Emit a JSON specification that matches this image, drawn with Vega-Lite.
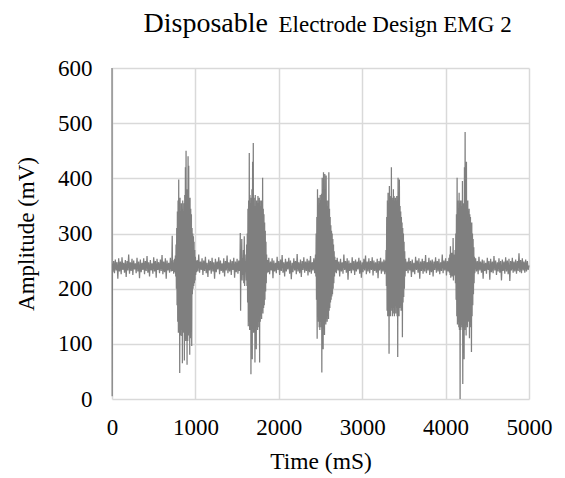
{
"$schema":"https://vega.github.io/schema/vega-lite/v6.json",
"autosize":{"type":"none"},
"padding":{"left":112,"top":68,"right":36,"bottom":79},
"width":417,"height":331,
"background":"white",
"config":{"font":"Liberation Serif","view":{"stroke":null}},
"data":{"values":[
{"t":0,"v":600},{"t":2,"v":5},{"t":5,"v":245},
{"t":10,"v":230},{"t":20,"v":250},{"t":30,"v":228},{"t":40,"v":253},{"t":50,"v":233},{"t":60,"v":248},{"t":70,"v":218},{"t":80,"v":255},{"t":90,"v":231},{"t":100,"v":249},{"t":110,"v":226},{"t":120,"v":257},{"t":130,"v":234},{"t":140,"v":247},{"t":150,"v":229},{"t":160,"v":252},{"t":170,"v":221},{"t":180,"v":250},{"t":190,"v":233},{"t":200,"v":262},{"t":210,"v":227},{"t":220,"v":248},{"t":230,"v":232},{"t":240,"v":254},{"t":250,"v":225},{"t":260,"v":251},{"t":270,"v":235},{"t":280,"v":246},{"t":290,"v":228},{"t":300,"v":256},{"t":310,"v":231},{"t":320,"v":249},{"t":330,"v":219},{"t":340,"v":253},{"t":350,"v":230},{"t":360,"v":247},{"t":370,"v":234},{"t":380,"v":255},{"t":390,"v":226},{"t":400,"v":250},{"t":410,"v":232},{"t":420,"v":259},{"t":430,"v":229},{"t":440,"v":248},{"t":450,"v":222},{"t":460,"v":252},{"t":470,"v":233},{"t":480,"v":246},{"t":490,"v":227},{"t":500,"v":257},{"t":510,"v":231},{"t":520,"v":250},{"t":530,"v":220},{"t":540,"v":254},{"t":550,"v":234},{"t":560,"v":248},{"t":570,"v":228},{"t":580,"v":253},{"t":590,"v":232},{"t":600,"v":261},{"t":610,"v":226},{"t":620,"v":249},{"t":630,"v":230},{"t":640,"v":255},{"t":650,"v":218},{"t":660,"v":251},{"t":670,"v":233},{"t":680,"v":247},{"t":690,"v":229},{"t":700,"v":256},{"t":710,"v":231},{"t":718,"v":250},{"t":722,"v":296},{"t":726,"v":232},{"t":730,"v":252},{"t":740,"v":227},{"t":750,"v":254},{"t":756,"v":230},
{"t":760,"v":260},{"t":764,"v":222},{"t":768,"v":280},{"t":772,"v":200},{"t":776,"v":310},{"t":780,"v":170},{"t":784,"v":340},{"t":788,"v":140},{"t":792,"v":360},{"t":796,"v":120},{"t":800,"v":398},{"t":804,"v":130},{"t":808,"v":350},{"t":812,"v":47},{"t":816,"v":365},{"t":820,"v":115},{"t":824,"v":340},{"t":828,"v":125},{"t":832,"v":355},{"t":836,"v":114},{"t":840,"v":345},{"t":844,"v":65},{"t":848,"v":360},{"t":852,"v":120},{"t":856,"v":340},{"t":860,"v":135},{"t":864,"v":355},{"t":868,"v":70},{"t":872,"v":370},{"t":876,"v":110},{"t":880,"v":420},{"t":884,"v":105},{"t":888,"v":450},{"t":892,"v":110},{"t":896,"v":380},{"t":900,"v":62},{"t":904,"v":360},{"t":908,"v":105},{"t":912,"v":440},{"t":916,"v":115},{"t":920,"v":423},{"t":924,"v":120},{"t":928,"v":350},{"t":932,"v":80},{"t":936,"v":365},{"t":940,"v":110},{"t":944,"v":345},{"t":948,"v":125},{"t":952,"v":335},{"t":956,"v":96},{"t":960,"v":310},{"t":964,"v":190},{"t":968,"v":300},{"t":972,"v":200},{"t":976,"v":295},{"t":980,"v":205},{"t":984,"v":285},{"t":988,"v":210},{"t":992,"v":270},{"t":996,"v":215},{"t":1000,"v":258},{"t":1004,"v":225},{"t":1008,"v":250},{"t":1012,"v":230},
{"t":1020,"v":252},{"t":1030,"v":231},{"t":1040,"v":262},{"t":1050,"v":229},{"t":1060,"v":249},{"t":1070,"v":234},{"t":1080,"v":255},{"t":1090,"v":225},{"t":1100,"v":251},{"t":1110,"v":232},{"t":1120,"v":258},{"t":1130,"v":228},{"t":1140,"v":247},{"t":1150,"v":221},{"t":1160,"v":253},{"t":1170,"v":233},{"t":1180,"v":250},{"t":1190,"v":227},{"t":1200,"v":256},{"t":1210,"v":231},{"t":1220,"v":248},{"t":1230,"v":218},{"t":1240,"v":254},{"t":1250,"v":230},{"t":1260,"v":249},{"t":1270,"v":235},{"t":1280,"v":257},{"t":1290,"v":226},{"t":1300,"v":251},{"t":1310,"v":232},{"t":1320,"v":246},{"t":1330,"v":229},{"t":1340,"v":255},{"t":1350,"v":222},{"t":1360,"v":250},{"t":1370,"v":233},{"t":1380,"v":260},{"t":1390,"v":228},{"t":1400,"v":248},{"t":1410,"v":231},{"t":1420,"v":253},{"t":1430,"v":225},{"t":1440,"v":250},{"t":1450,"v":234},{"t":1460,"v":256},{"t":1470,"v":220},{"t":1480,"v":249},{"t":1490,"v":230},{"t":1500,"v":254},{"t":1510,"v":227},{"t":1520,"v":251},{"t":1526,"v":232},
{"t":1530,"v":250},{"t":1534,"v":232},{"t":1538,"v":301},{"t":1542,"v":160},{"t":1546,"v":248},{"t":1550,"v":230},{"t":1556,"v":290},{"t":1560,"v":215},{"t":1566,"v":255},{"t":1570,"v":225},{"t":1576,"v":270},{"t":1580,"v":210},{"t":1586,"v":295},{"t":1590,"v":205},{"t":1596,"v":250},{"t":1600,"v":232},{"t":1606,"v":262},{"t":1610,"v":215},{"t":1614,"v":280},{"t":1618,"v":205},
{"t":1622,"v":300},{"t":1626,"v":175},{"t":1630,"v":345},{"t":1634,"v":132},{"t":1638,"v":360},{"t":1642,"v":140},{"t":1646,"v":446},{"t":1650,"v":125},{"t":1654,"v":370},{"t":1658,"v":140},{"t":1662,"v":355},{"t":1666,"v":45},{"t":1670,"v":365},{"t":1674,"v":130},{"t":1678,"v":380},{"t":1682,"v":72},{"t":1686,"v":430},{"t":1690,"v":135},{"t":1694,"v":464},{"t":1698,"v":120},{"t":1702,"v":365},{"t":1706,"v":140},{"t":1710,"v":350},{"t":1714,"v":66},{"t":1718,"v":370},{"t":1722,"v":135},{"t":1726,"v":350},{"t":1730,"v":90},{"t":1734,"v":360},{"t":1738,"v":145},{"t":1742,"v":355},{"t":1746,"v":125},{"t":1750,"v":368},{"t":1754,"v":140},{"t":1758,"v":355},{"t":1762,"v":130},{"t":1766,"v":365},{"t":1770,"v":66},{"t":1774,"v":360},{"t":1778,"v":140},{"t":1782,"v":350},{"t":1786,"v":150},{"t":1790,"v":360},{"t":1794,"v":145},{"t":1798,"v":345},{"t":1802,"v":160},{"t":1806,"v":401},{"t":1810,"v":155},{"t":1814,"v":345},{"t":1818,"v":165},{"t":1822,"v":335},{"t":1826,"v":170},{"t":1830,"v":320},{"t":1834,"v":180},{"t":1838,"v":305},{"t":1842,"v":195},{"t":1846,"v":285},{"t":1850,"v":210},{"t":1854,"v":262},{"t":1858,"v":228},
{"t":1866,"v":252},{"t":1874,"v":230},{"t":1880,"v":256},{"t":1890,"v":226},{"t":1900,"v":249},{"t":1910,"v":233},{"t":1920,"v":255},{"t":1930,"v":219},{"t":1940,"v":251},{"t":1950,"v":231},{"t":1960,"v":247},{"t":1970,"v":228},{"t":1980,"v":258},{"t":1990,"v":234},{"t":2000,"v":250},{"t":2010,"v":225},{"t":2020,"v":253},{"t":2030,"v":232},{"t":2040,"v":261},{"t":2050,"v":229},{"t":2060,"v":248},{"t":2070,"v":222},{"t":2080,"v":254},{"t":2090,"v":231},{"t":2100,"v":249},{"t":2110,"v":235},{"t":2120,"v":256},{"t":2130,"v":227},{"t":2140,"v":251},{"t":2150,"v":217},{"t":2160,"v":247},{"t":2170,"v":230},{"t":2180,"v":255},{"t":2190,"v":233},{"t":2200,"v":250},{"t":2210,"v":226},{"t":2220,"v":263},{"t":2230,"v":231},{"t":2240,"v":248},{"t":2250,"v":228},{"t":2260,"v":253},{"t":2270,"v":221},{"t":2280,"v":250},{"t":2290,"v":234},{"t":2300,"v":257},{"t":2310,"v":229},{"t":2320,"v":249},{"t":2330,"v":232},{"t":2340,"v":254},{"t":2350,"v":224},{"t":2360,"v":251},{"t":2370,"v":230},{"t":2380,"v":259},{"t":2390,"v":227},{"t":2400,"v":248},{"t":2410,"v":233},{"t":2420,"v":255},{"t":2430,"v":228},
{"t":2440,"v":262},{"t":2444,"v":222},{"t":2448,"v":300},{"t":2452,"v":180},{"t":2456,"v":330},{"t":2460,"v":109},{"t":2464,"v":380},{"t":2468,"v":150},{"t":2472,"v":350},{"t":2476,"v":140},{"t":2480,"v":365},{"t":2484,"v":130},{"t":2488,"v":355},{"t":2492,"v":125},{"t":2496,"v":370},{"t":2500,"v":140},{"t":2504,"v":360},{"t":2508,"v":130},{"t":2512,"v":372},{"t":2516,"v":48},{"t":2520,"v":401},{"t":2524,"v":135},{"t":2528,"v":365},{"t":2532,"v":90},{"t":2536,"v":411},{"t":2540,"v":130},{"t":2544,"v":360},{"t":2548,"v":116},{"t":2552,"v":408},{"t":2556,"v":140},{"t":2560,"v":355},{"t":2564,"v":135},{"t":2568,"v":405},{"t":2572,"v":145},{"t":2576,"v":360},{"t":2580,"v":140},{"t":2584,"v":350},{"t":2588,"v":150},{"t":2592,"v":360},{"t":2596,"v":145},{"t":2600,"v":411},{"t":2604,"v":160},{"t":2608,"v":345},{"t":2612,"v":165},{"t":2616,"v":330},{"t":2620,"v":175},{"t":2624,"v":315},{"t":2628,"v":180},{"t":2632,"v":305},{"t":2636,"v":186},{"t":2640,"v":300},{"t":2644,"v":190},{"t":2648,"v":290},{"t":2652,"v":200},{"t":2656,"v":280},{"t":2660,"v":210},{"t":2664,"v":268},{"t":2668,"v":222},{"t":2672,"v":258},{"t":2676,"v":230},
{"t":2684,"v":252},{"t":2690,"v":228},{"t":2700,"v":256},{"t":2710,"v":233},{"t":2720,"v":249},{"t":2730,"v":222},{"t":2740,"v":254},{"t":2750,"v":231},{"t":2760,"v":248},{"t":2770,"v":227},{"t":2780,"v":262},{"t":2790,"v":234},{"t":2800,"v":250},{"t":2810,"v":229},{"t":2820,"v":255},{"t":2830,"v":216},{"t":2840,"v":251},{"t":2850,"v":232},{"t":2860,"v":247},{"t":2870,"v":228},{"t":2880,"v":257},{"t":2890,"v":233},{"t":2900,"v":250},{"t":2910,"v":225},{"t":2920,"v":253},{"t":2930,"v":231},{"t":2940,"v":249},{"t":2950,"v":235},{"t":2960,"v":256},{"t":2970,"v":227},{"t":2980,"v":251},{"t":2990,"v":220},{"t":3000,"v":248},{"t":3010,"v":230},{"t":3020,"v":254},{"t":3030,"v":233},{"t":3040,"v":260},{"t":3050,"v":226},{"t":3060,"v":249},{"t":3070,"v":231},{"t":3080,"v":255},{"t":3090,"v":228},{"t":3100,"v":250},{"t":3110,"v":234},{"t":3120,"v":257},{"t":3130,"v":224},{"t":3140,"v":251},{"t":3150,"v":232},{"t":3160,"v":248},{"t":3170,"v":229},{"t":3180,"v":254},{"t":3190,"v":219},{"t":3200,"v":250},{"t":3210,"v":233},{"t":3220,"v":256},{"t":3230,"v":227},{"t":3240,"v":249},{"t":3250,"v":231},{"t":3260,"v":253},{"t":3270,"v":226},{"t":3278,"v":251},{"t":3282,"v":230},
{"t":3286,"v":270},{"t":3290,"v":205},{"t":3294,"v":330},{"t":3298,"v":160},{"t":3302,"v":360},{"t":3306,"v":150},{"t":3310,"v":374},{"t":3314,"v":160},{"t":3318,"v":355},{"t":3322,"v":82},{"t":3326,"v":386},{"t":3330,"v":160},{"t":3334,"v":365},{"t":3338,"v":150},{"t":3342,"v":368},{"t":3346,"v":165},{"t":3350,"v":420},{"t":3354,"v":160},{"t":3358,"v":365},{"t":3362,"v":150},{"t":3366,"v":360},{"t":3370,"v":165},{"t":3374,"v":380},{"t":3378,"v":155},{"t":3382,"v":368},{"t":3386,"v":150},{"t":3390,"v":360},{"t":3394,"v":168},{"t":3398,"v":365},{"t":3402,"v":155},{"t":3406,"v":360},{"t":3410,"v":165},{"t":3414,"v":368},{"t":3418,"v":150},{"t":3422,"v":355},{"t":3426,"v":76},{"t":3430,"v":401},{"t":3434,"v":160},{"t":3438,"v":360},{"t":3442,"v":150},{"t":3446,"v":398},{"t":3450,"v":165},{"t":3454,"v":350},{"t":3458,"v":168},{"t":3462,"v":340},{"t":3466,"v":160},{"t":3470,"v":330},{"t":3474,"v":170},{"t":3478,"v":320},{"t":3482,"v":112},{"t":3486,"v":310},{"t":3490,"v":175},{"t":3494,"v":300},{"t":3498,"v":185},{"t":3502,"v":285},{"t":3506,"v":200},{"t":3510,"v":268},{"t":3514,"v":222},
{"t":3520,"v":254},{"t":3530,"v":232},{"t":3540,"v":249},{"t":3550,"v":228},{"t":3560,"v":256},{"t":3570,"v":233},{"t":3580,"v":250},{"t":3590,"v":221},{"t":3600,"v":253},{"t":3610,"v":230},{"t":3620,"v":247},{"t":3630,"v":226},{"t":3640,"v":258},{"t":3650,"v":234},{"t":3660,"v":251},{"t":3670,"v":229},{"t":3680,"v":255},{"t":3690,"v":218},{"t":3700,"v":249},{"t":3710,"v":232},{"t":3720,"v":254},{"t":3730,"v":227},{"t":3740,"v":250},{"t":3750,"v":231},{"t":3760,"v":261},{"t":3770,"v":228},{"t":3780,"v":248},{"t":3790,"v":233},{"t":3800,"v":256},{"t":3810,"v":225},{"t":3820,"v":251},{"t":3830,"v":230},{"t":3840,"v":253},{"t":3850,"v":222},{"t":3860,"v":249},{"t":3870,"v":234},{"t":3880,"v":257},{"t":3890,"v":229},{"t":3900,"v":250},{"t":3910,"v":231},{"t":3920,"v":254},{"t":3930,"v":226},{"t":3940,"v":248},{"t":3950,"v":232},{"t":3960,"v":262},{"t":3970,"v":228},{"t":3980,"v":251},{"t":3990,"v":233},{"t":4000,"v":255},{"t":4010,"v":224},{"t":4020,"v":250},{"t":4030,"v":231},{"t":4040,"v":256},{"t":4046,"v":229},
{"t":4050,"v":262},{"t":4054,"v":225},{"t":4058,"v":277},{"t":4062,"v":220},{"t":4066,"v":255},{"t":4070,"v":228},{"t":4074,"v":265},{"t":4078,"v":222},{"t":4082,"v":260},{"t":4086,"v":226},{"t":4090,"v":292},{"t":4094,"v":215},{"t":4098,"v":262},{"t":4102,"v":224},{"t":4106,"v":258},{"t":4110,"v":228},{"t":4114,"v":270},{"t":4118,"v":210},{"t":4122,"v":300},{"t":4126,"v":180},{"t":4130,"v":335},{"t":4134,"v":150},{"t":4138,"v":401},{"t":4142,"v":135},{"t":4146,"v":360},{"t":4150,"v":140},{"t":4154,"v":345},{"t":4158,"v":130},{"t":4162,"v":374},{"t":4166,"v":125},{"t":4170,"v":355},{"t":4174,"v":0},{"t":4178,"v":360},{"t":4182,"v":125},{"t":4186,"v":350},{"t":4190,"v":135},{"t":4194,"v":360},{"t":4198,"v":130},{"t":4202,"v":395},{"t":4206,"v":27},{"t":4210,"v":355},{"t":4214,"v":130},{"t":4218,"v":345},{"t":4222,"v":72},{"t":4226,"v":420},{"t":4230,"v":125},{"t":4234,"v":484},{"t":4238,"v":130},{"t":4242,"v":355},{"t":4246,"v":115},{"t":4250,"v":430},{"t":4254,"v":135},{"t":4258,"v":345},{"t":4262,"v":130},{"t":4266,"v":360},{"t":4270,"v":140},{"t":4274,"v":340},{"t":4278,"v":145},{"t":4282,"v":345},{"t":4286,"v":110},{"t":4290,"v":335},{"t":4294,"v":140},{"t":4298,"v":330},{"t":4302,"v":130},{"t":4306,"v":320},{"t":4310,"v":85},{"t":4314,"v":320},{"t":4318,"v":150},{"t":4322,"v":300},{"t":4326,"v":170},{"t":4330,"v":290},{"t":4334,"v":190},{"t":4338,"v":275},{"t":4342,"v":210},{"t":4346,"v":258},{"t":4350,"v":228},
{"t":4360,"v":255},{"t":4370,"v":231},{"t":4380,"v":250},{"t":4390,"v":226},{"t":4400,"v":258},{"t":4410,"v":233},{"t":4420,"v":249},{"t":4430,"v":229},{"t":4440,"v":253},{"t":4450,"v":218},{"t":4460,"v":251},{"t":4470,"v":232},{"t":4480,"v":247},{"t":4490,"v":227},{"t":4500,"v":256},{"t":4510,"v":234},{"t":4520,"v":250},{"t":4530,"v":216},{"t":4540,"v":254},{"t":4550,"v":230},{"t":4560,"v":249},{"t":4570,"v":228},{"t":4580,"v":259},{"t":4590,"v":233},{"t":4600,"v":251},{"t":4610,"v":225},{"t":4620,"v":248},{"t":4630,"v":231},{"t":4640,"v":255},{"t":4650,"v":229},{"t":4660,"v":250},{"t":4670,"v":215},{"t":4680,"v":253},{"t":4690,"v":232},{"t":4700,"v":249},{"t":4710,"v":227},{"t":4720,"v":257},{"t":4730,"v":231},{"t":4740,"v":251},{"t":4750,"v":226},{"t":4760,"v":254},{"t":4770,"v":214},{"t":4780,"v":250},{"t":4790,"v":233},{"t":4800,"v":256},{"t":4810,"v":229},{"t":4820,"v":249},{"t":4830,"v":231},{"t":4840,"v":253},{"t":4850,"v":227},{"t":4860,"v":250},{"t":4870,"v":232},{"t":4880,"v":264},{"t":4890,"v":230},{"t":4900,"v":252},{"t":4910,"v":228},{"t":4920,"v":255},{"t":4930,"v":233},{"t":4940,"v":249},{"t":4950,"v":229},{"t":4960,"v":253},{"t":4970,"v":231},{"t":4980,"v":250},{"t":4990,"v":234},{"t":5000,"v":242}
]},
"encoding":{
"y":{"field":"v","type":"quantitative","scale":{"domain":[0,600],"nice":false},"axis":{"title":"Amplitude (mV)","format":"d","values":[0,100,200,300,400,500,600],"labelFontSize":23,"labelPadding":20,"labelOverlap":false,"labelColor":"black","ticks":false,"domain":false,"gridColor":"#d9d9d9","gridWidth":1.5,"titleFontSize":23,"titleFontWeight":"normal","titleColor":"black","titlePadding":19,"labelFont":"Liberation Serif","titleFont":"Liberation Serif"}}
},
"layer":[
{"mark":{"type":"line","color":"#7f7f7f","strokeWidth":1.25,"interpolate":"linear"},
"encoding":{"x":{"field":"t","type":"quantitative","scale":{"domain":[0,5000],"nice":false,"zero":false},"axis":{"title":"Time (mS)","format":"d","values":[0,1000,2000,3000,4000,5000],"labelFontSize":23,"labelPadding":17,"labelFlush":false,"labelOverlap":false,"labelColor":"black","ticks":false,"domain":false,"gridColor":"#d9d9d9","gridWidth":1.5,"titleFontSize":23.5,"titleFontWeight":"normal","titleColor":"black","titlePadding":10,"labelFont":"Liberation Serif","titleFont":"Liberation Serif"}}}},
{"mark":{"type":"line","opacity":0},
"encoding":{"x":{"field":"t","type":"quantitative","axis":{"orient":"top","title":"Disposable","labels":false,"ticks":false,"domain":false,"grid":false,"titleX":31,"titleY":-36.3,"titleAlign":"left","titleAngle":0,"titleBaseline":"alphabetic","titleFontSize":28,"titleFontWeight":"normal","titleColor":"black","titleFont":"Liberation Serif"}}}},
{"mark":{"type":"line","opacity":0},
"encoding":{"x":{"field":"t","type":"quantitative","axis":{"orient":"top","title":"Electrode Design EMG 2","labels":false,"ticks":false,"domain":false,"grid":false,"titleX":166,"titleY":-36.3,"titleAlign":"left","titleAngle":0,"titleBaseline":"alphabetic","titleFontSize":23,"titleFontWeight":"normal","titleColor":"black","titleFont":"Liberation Serif"}}}}
],
"resolve":{"axis":{"x":"independent"}}
}
